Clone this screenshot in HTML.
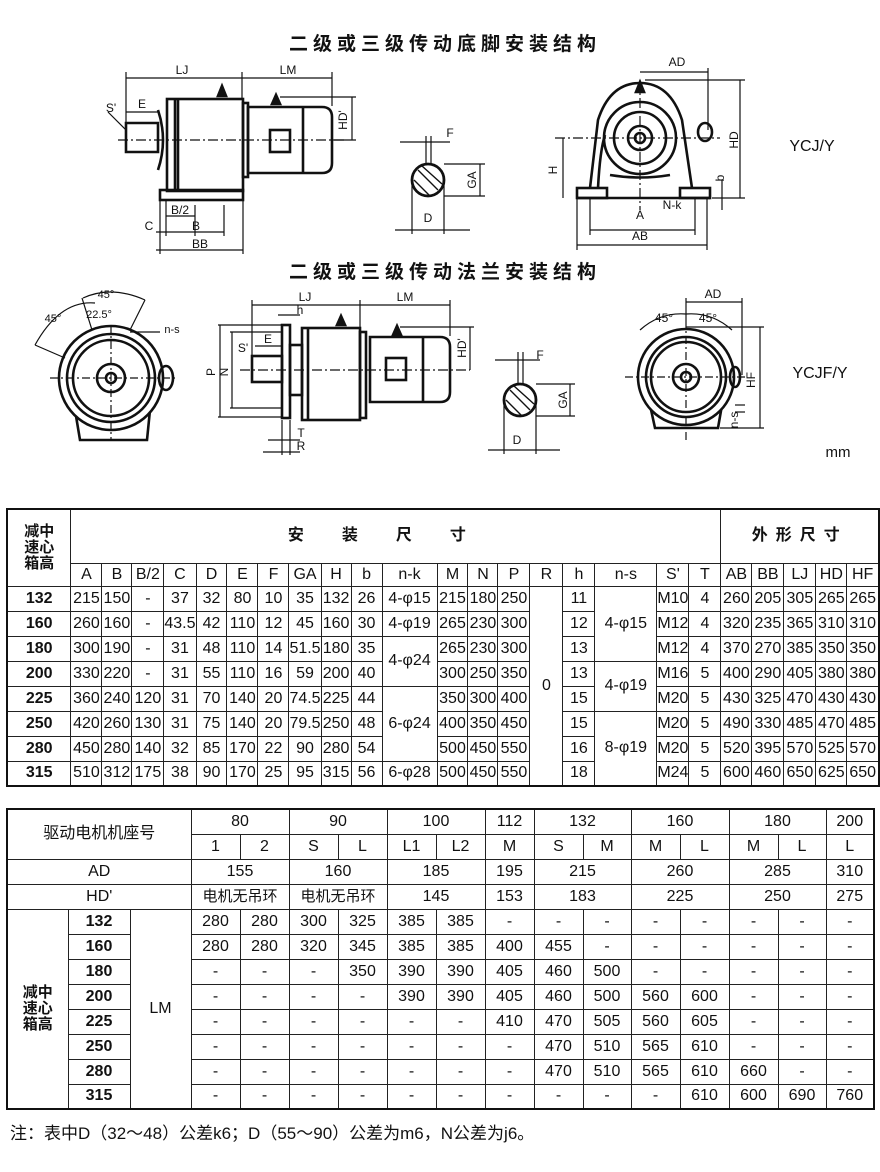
<!DOCTYPE html>
<html><head><meta charset="utf-8">
<style>
*{margin:0;padding:0;box-sizing:border-box}
body{width:880px;height:1172px;background:#fff;position:relative;overflow:hidden;font-family:"Liberation Sans","Noto Sans CJK SC",sans-serif;color:#111}
svg{position:absolute;left:0;top:0}
table{position:absolute;border-collapse:collapse;table-layout:fixed;font-family:"Liberation Sans Narrow","Liberation Sans","Noto Sans CJK SC",sans-serif;font-size:16px}
td{border:1px solid #222;text-align:center;vertical-align:middle;padding:0;white-space:nowrap;overflow:hidden;line-height:1}
.b{font-weight:bold;font-family:"Liberation Sans","Noto Sans CJK SC",sans-serif;font-size:16px}
.cj{font-family:"Liberation Sans","Noto Sans CJK SC",sans-serif}
#t1{left:6px;top:508px;border:2px solid #111}
#t2{left:6px;top:808px;border:2px solid #111}
#t1 tr.d td{height:25px}
#t2 tr td{height:25px}
.note{position:absolute;left:10px;top:1119px;font-size:17px;font-family:"Liberation Sans","Noto Sans CJK SC",sans-serif}
</style></head><body>
<svg width="880" height="500" viewBox="0 0 880 500" font-family="Liberation Sans, Noto Sans CJK SC, sans-serif" fill="none" stroke="#111" stroke-width="1.3">
<g fill="#111" stroke="none" font-weight="bold" font-size="19" text-anchor="middle">
<text x="445" y="50" letter-spacing="5">二级或三级传动底脚安装结构</text>
<text x="445" y="278" letter-spacing="5">二级或三级传动法兰安装结构</text>
</g>
<!-- diagram 1 side -->
<g stroke-width="2.6">
<rect x="167" y="99" width="76" height="92"/>
<line x1="175" y1="99" x2="175" y2="191"/><line x1="178" y1="99" x2="178" y2="191"/>
<rect x="160" y="190" width="83" height="10"/>
<path d="M158 123 L126 123 L126 152 L158 152 Z"/>
<path d="M158 110 Q168 140 158 170"/>
<rect x="243" y="103" width="5" height="74"/>
<path d="M248 107 H322 Q332 107 332 117 V163 Q332 173 322 173 H248 Z"/>
<line x1="303" y1="107" x2="303" y2="173"/>
<rect x="270" y="130" width="20" height="22"/>
<path d="M218 96 L222 86 L226 96 Z" fill="#111"/>
<path d="M272 104 L276 95 L280 104 Z" fill="#111"/>
</g>
<g stroke-width="1.2">
<line x1="118" y1="140" x2="345" y2="140" stroke-dasharray="10 3 2 3"/>
<line x1="126" y1="78" x2="332" y2="78"/><line x1="126" y1="72" x2="126" y2="122"/><line x1="242" y1="72" x2="242" y2="100"/><line x1="332" y1="72" x2="332" y2="106"/>
<line x1="126" y1="112" x2="158" y2="112"/>
<line x1="352" y1="97" x2="352" y2="140"/><line x1="280" y1="97" x2="356" y2="97"/><line x1="332" y1="140" x2="356" y2="140"/>
<line x1="156" y1="232" x2="224" y2="232"/><line x1="156" y1="250" x2="243" y2="250"/>
<line x1="166" y1="216" x2="195" y2="216"/><line x1="160" y1="200" x2="160" y2="254"/><line x1="243" y1="200" x2="243" y2="254"/><line x1="224" y1="205" x2="224" y2="236"/><line x1="195" y1="205" x2="195" y2="236"/><line x1="166" y1="200" x2="166" y2="236"/>
<line x1="108" y1="112" x2="126" y2="130"/>
</g>
<g fill="#111" stroke="none" font-size="12" text-anchor="middle">
<text x="182" y="74">LJ</text><text x="288" y="74">LM</text><text x="142" y="108">E</text><text x="111" y="112">S'</text>
<text x="180" y="214">B/2</text><text x="196" y="230">B</text><text x="149" y="230">C</text><text x="200" y="248">BB</text>
<text x="347" y="120" transform="rotate(-90 347 120)">HD'</text>
</g>
<!-- shaft section 1 -->
<g>
<circle cx="428" cy="180" r="16" stroke-width="2.8"/>
<path d="M418 170 L438 190 M414 180 L430 196 M422 166 L442 184" stroke-width="1.4"/>
<line x1="400" y1="142" x2="450" y2="142" stroke-width="1.2"/><line x1="426" y1="136" x2="426" y2="165" stroke-width="1.2"/><line x1="431" y1="136" x2="431" y2="165" stroke-width="1.2"/>
<line x1="395" y1="230" x2="470" y2="230" stroke-width="1.2"/><line x1="412" y1="180" x2="412" y2="234" stroke-width="1.2"/><line x1="444" y1="180" x2="444" y2="234" stroke-width="1.2"/>
<line x1="444" y1="164" x2="485" y2="164" stroke-width="1.2"/><line x1="444" y1="196" x2="485" y2="196" stroke-width="1.2"/><line x1="480" y1="164" x2="480" y2="196" stroke-width="1.2"/>
</g>
<g fill="#111" stroke="none" font-size="12" text-anchor="middle"><text x="450" y="137">F</text><text x="428" y="222">D</text><text x="476" y="180" transform="rotate(-90 476 180)">GA</text></g>
<!-- end view 1 -->
<g stroke-width="2.6">
<path d="M590 188 L598 120 Q610 83 640 83 Q670 83 682 120 L692 188"/>
<path d="M598 188 Q600 150 605 135"/>
<circle cx="640" cy="138" r="36"/><circle cx="640" cy="138" r="26"/>
<circle cx="640" cy="138" r="12"/><circle cx="640" cy="138" r="5"/>
<path d="M610 175 Q640 180 670 175"/>
<rect x="577" y="188" width="30" height="10"/><rect x="680" y="188" width="30" height="10"/>
<line x1="577" y1="198" x2="710" y2="198"/>
<path d="M636 92 L640 82 L644 92 Z" fill="#111"/>
<ellipse cx="705" cy="132" rx="7" ry="9"/>
</g>
<g stroke-width="1.2">
<line x1="555" y1="138" x2="720" y2="138" stroke-dasharray="10 3 2 3"/><line x1="640" y1="80" x2="640" y2="210" stroke-dasharray="10 3 2 3"/>
<line x1="640" y1="72" x2="708" y2="72"/><line x1="708" y1="68" x2="708" y2="130"/>
<line x1="740" y1="80" x2="740" y2="198"/><line x1="645" y1="80" x2="745" y2="80"/><line x1="712" y1="198" x2="745" y2="198"/>
<line x1="563" y1="138" x2="563" y2="198"/>
<line x1="590" y1="230" x2="695" y2="230"/><line x1="577" y1="245" x2="707" y2="245"/><line x1="577" y1="198" x2="577" y2="250"/><line x1="707" y1="198" x2="707" y2="250"/><line x1="590" y1="198" x2="590" y2="235"/><line x1="695" y1="198" x2="695" y2="235"/>
<line x1="722" y1="180" x2="722" y2="210"/>
</g>
<g fill="#111" stroke="none" font-size="12" text-anchor="middle">
<text x="677" y="66">AD</text><text x="640" y="219">A</text><text x="640" y="240">AB</text><text x="672" y="209">N-k</text>
<text x="738" y="140" transform="rotate(-90 738 140)">HD</text><text x="557" y="170" transform="rotate(-90 557 170)">H</text><text x="724" y="178" transform="rotate(-90 724 178)">b</text>
</g>
<text x="812" y="151" fill="#111" stroke="none" font-size="16" text-anchor="middle">YCJ/Y</text>
<!-- flange end view -->
<g stroke-width="2.6">
<path d="M75 410 L80 440 L147 440 L150 410"/>
<circle cx="111" cy="378" r="52" fill="#fff"/><circle cx="111" cy="378" r="44"/><circle cx="111" cy="378" r="38"/>
<circle cx="111" cy="378" r="14"/><circle cx="111" cy="378" r="5"/>
<ellipse cx="166" cy="378" rx="7" ry="12"/>
</g>
<g stroke-width="1.2">
<line x1="50" y1="378" x2="175" y2="378" stroke-dasharray="8 3 2 3"/><line x1="111" y1="325" x2="111" y2="440" stroke-dasharray="8 3 2 3"/>
<path d="M35 345 Q60 300 95 303"/><path d="M83 298 Q111 285 145 300"/>
<line x1="35" y1="345" x2="65" y2="358"/><line x1="82" y1="298" x2="92" y2="330"/><line x1="145" y1="300" x2="130" y2="330"/>
<line x1="130" y1="332" x2="160" y2="332"/>
</g>
<g fill="#111" stroke="none" font-size="11" text-anchor="middle"><text x="106" y="298">45°</text><text x="53" y="322">45°</text><text x="99" y="318">22.5°</text><text x="172" y="333">n-s</text></g>
<!-- flange side view -->
<g stroke-width="2.6">
<rect x="282" y="325" width="8" height="93"/>
<rect x="290" y="345" width="12" height="50"/>
<rect x="302" y="328" width="58" height="92"/>
<line x1="308" y1="328" x2="308" y2="420"/>
<rect x="360" y="332" width="6" height="86"/>
<path d="M370 337 H440 Q450 337 450 347 V392 Q450 402 440 402 H370 Z"/>
<line x1="423" y1="337" x2="423" y2="402"/><rect x="386" y="358" width="20" height="22"/>
<rect x="252" y="356" width="30" height="26"/>
<path d="M337 325 L341 316 L345 325 Z" fill="#111"/><path d="M393 335 L397 326 L401 335 Z" fill="#111"/>
</g>
<g stroke-width="1.2">
<line x1="240" y1="370" x2="470" y2="370" stroke-dasharray="10 3 2 3"/>
<line x1="252" y1="305" x2="450" y2="305"/><line x1="252" y1="300" x2="252" y2="355"/><line x1="360" y1="300" x2="360" y2="330"/><line x1="450" y1="300" x2="450" y2="336"/>
<line x1="218" y1="325" x2="282" y2="325"/><line x1="218" y1="417" x2="282" y2="417"/><line x1="220" y1="325" x2="220" y2="417"/>
<line x1="230" y1="332" x2="282" y2="332"/><line x1="230" y1="408" x2="282" y2="408"/><line x1="232" y1="332" x2="232" y2="408"/>
<line x1="470" y1="327" x2="470" y2="370"/><line x1="400" y1="327" x2="474" y2="327"/>
<line x1="255" y1="346" x2="282" y2="346"/><line x1="278" y1="315" x2="300" y2="315"/>
<line x1="282" y1="420" x2="282" y2="455"/><line x1="290" y1="420" x2="290" y2="455"/>
<line x1="268" y1="440" x2="300" y2="440"/><line x1="263" y1="452" x2="300" y2="452"/>
</g>
<g fill="#111" stroke="none" font-size="12" text-anchor="middle">
<text x="305" y="301">LJ</text><text x="405" y="301">LM</text><text x="300" y="314">h</text><text x="268" y="343">E</text><text x="243" y="352">S'</text>
<text x="301" y="437">T</text><text x="301" y="450">R</text>
<text x="215" y="372" transform="rotate(-90 215 372)">P</text><text x="228" y="372" transform="rotate(-90 228 372)">N</text><text x="466" y="348" transform="rotate(-90 466 348)">HD'</text>
</g>
<!-- shaft section 2 -->
<g>
<circle cx="520" cy="400" r="16" stroke-width="2.8"/>
<path d="M510 390 L530 410 M506 400 L522 416 M514 386 L534 404" stroke-width="1.4"/>
<line x1="495" y1="360" x2="540" y2="360" stroke-width="1.2"/><line x1="518" y1="352" x2="518" y2="385" stroke-width="1.2"/><line x1="523" y1="352" x2="523" y2="385" stroke-width="1.2"/>
<line x1="488" y1="450" x2="560" y2="450" stroke-width="1.2"/><line x1="504" y1="400" x2="504" y2="454" stroke-width="1.2"/><line x1="536" y1="400" x2="536" y2="454" stroke-width="1.2"/>
<line x1="536" y1="384" x2="575" y2="384" stroke-width="1.2"/><line x1="536" y1="416" x2="575" y2="416" stroke-width="1.2"/><line x1="570" y1="384" x2="570" y2="416" stroke-width="1.2"/>
</g>
<g fill="#111" stroke="none" font-size="12" text-anchor="middle"><text x="540" y="359">F</text><text x="517" y="444">D</text><text x="567" y="400" transform="rotate(-90 567 400)">GA</text></g>
<!-- end view 2 -->
<g stroke-width="2.6">
<path d="M650 405 L655 428 L718 428 L722 405"/>
<circle cx="686" cy="377" r="48" fill="#fff"/><circle cx="686" cy="377" r="40"/><circle cx="686" cy="377" r="35"/>
<circle cx="686" cy="377" r="13"/><circle cx="686" cy="377" r="5"/>
<ellipse cx="735" cy="377" rx="5" ry="10"/>
</g>
<g stroke-width="1.2">
<line x1="625" y1="377" x2="745" y2="377" stroke-dasharray="8 3 2 3"/><line x1="686" y1="320" x2="686" y2="442" stroke-dasharray="8 3 2 3"/>
<line x1="686" y1="302" x2="742" y2="302"/><line x1="686" y1="298" x2="686" y2="320"/><line x1="742" y1="298" x2="742" y2="375"/>
<line x1="760" y1="327" x2="760" y2="428"/><line x1="686" y1="327" x2="764" y2="327"/><line x1="720" y1="428" x2="764" y2="428"/>
<path d="M640 330 Q660 312 686 314 Q712 312 732 330"/>
<line x1="735" y1="405" x2="745" y2="405"/><line x1="735" y1="412" x2="745" y2="412"/>
</g>
<g fill="#111" stroke="none" font-size="12" text-anchor="middle">
<text x="713" y="298">AD</text><text x="664" y="322">45°</text><text x="708" y="322">45°</text>
<text x="755" y="380" transform="rotate(-90 755 380)">HF</text><text x="738" y="420" transform="rotate(-90 738 420)">n-s</text>
</g>
<text x="820" y="378" fill="#111" stroke="none" font-size="16" text-anchor="middle">YCJF/Y</text>
<text x="838" y="457" fill="#111" stroke="none" font-size="15" text-anchor="middle">mm</text>
</svg>

<table id="t1">
<colgroup><col style="width:64px"><col style="width:31px"><col style="width:30px"><col style="width:32px"><col style="width:31px"><col style="width:31px"><col style="width:31px"><col style="width:31px"><col style="width:30px"><col style="width:30px"><col style="width:31px"><col style="width:55px"><col style="width:31px"><col style="width:30px"><col style="width:32px"><col style="width:33px"><col style="width:32px"><col style="width:62px"><col style="width:31px"><col style="width:32px"><col style="width:31px"><col style="width:32px"><col style="width:32px"><col style="width:31px"><col style="width:32px"></colgroup>
<tr><td rowspan="2" class="b" style="height:77px;line-height:1.05;font-size:15px">减中<br>速心<br>箱高</td><td colspan="19" class="b" style="height:54px;letter-spacing:38px;font-size:16px">安装尺寸</td><td colspan="5" class="b" style="letter-spacing:8px;font-size:16px">外形尺寸</td></tr>
<tr style="height:23px"><td>A</td><td>B</td><td>B/2</td><td>C</td><td>D</td><td>E</td><td>F</td><td>GA</td><td>H</td><td>b</td><td>n-k</td><td>M</td><td>N</td><td>P</td><td>R</td><td>h</td><td>n-s</td><td>S'</td><td>T</td><td>AB</td><td>BB</td><td>LJ</td><td>HD</td><td>HF</td></tr>
<tr class="d"><td class="b">132</td><td>215</td><td>150</td><td>-</td><td>37</td><td>32</td><td>80</td><td>10</td><td>35</td><td>132</td><td>26</td><td>4-φ15</td><td>215</td><td>180</td><td>250</td><td rowspan="8">0</td><td>11</td><td rowspan="3">4-φ15</td><td>M10</td><td>4</td><td>260</td><td>205</td><td>305</td><td>265</td><td>265</td></tr>
<tr class="d"><td class="b">160</td><td>260</td><td>160</td><td>-</td><td>43.5</td><td>42</td><td>110</td><td>12</td><td>45</td><td>160</td><td>30</td><td>4-φ19</td><td>265</td><td>230</td><td>300</td><td>12</td><td>M12</td><td>4</td><td>320</td><td>235</td><td>365</td><td>310</td><td>310</td></tr>
<tr class="d"><td class="b">180</td><td>300</td><td>190</td><td>-</td><td>31</td><td>48</td><td>110</td><td>14</td><td>51.5</td><td>180</td><td>35</td><td rowspan="2">4-φ24</td><td>265</td><td>230</td><td>300</td><td>13</td><td>M12</td><td>4</td><td>370</td><td>270</td><td>385</td><td>350</td><td>350</td></tr>
<tr class="d"><td class="b">200</td><td>330</td><td>220</td><td>-</td><td>31</td><td>55</td><td>110</td><td>16</td><td>59</td><td>200</td><td>40</td><td>300</td><td>250</td><td>350</td><td>13</td><td rowspan="2">4-φ19</td><td>M16</td><td>5</td><td>400</td><td>290</td><td>405</td><td>380</td><td>380</td></tr>
<tr class="d"><td class="b">225</td><td>360</td><td>240</td><td>120</td><td>31</td><td>70</td><td>140</td><td>20</td><td>74.5</td><td>225</td><td>44</td><td rowspan="3">6-φ24</td><td>350</td><td>300</td><td>400</td><td>15</td><td>M20</td><td>5</td><td>430</td><td>325</td><td>470</td><td>430</td><td>430</td></tr>
<tr class="d"><td class="b">250</td><td>420</td><td>260</td><td>130</td><td>31</td><td>75</td><td>140</td><td>20</td><td>79.5</td><td>250</td><td>48</td><td>400</td><td>350</td><td>450</td><td>15</td><td rowspan="3">8-φ19</td><td>M20</td><td>5</td><td>490</td><td>330</td><td>485</td><td>470</td><td>485</td></tr>
<tr class="d"><td class="b">280</td><td>450</td><td>280</td><td>140</td><td>32</td><td>85</td><td>170</td><td>22</td><td>90</td><td>280</td><td>54</td><td>500</td><td>450</td><td>550</td><td>16</td><td>M20</td><td>5</td><td>520</td><td>395</td><td>570</td><td>525</td><td>570</td></tr>
<tr class="d"><td class="b">315</td><td>510</td><td>312</td><td>175</td><td>38</td><td>90</td><td>170</td><td>25</td><td>95</td><td>315</td><td>56</td><td>6-φ28</td><td>500</td><td>450</td><td>550</td><td>18</td><td>M24</td><td>5</td><td>600</td><td>460</td><td>650</td><td>625</td><td>650</td></tr>
</table>

<table id="t2">
<colgroup><col style="width:61px"><col style="width:62px"><col style="width:61px"><col style="width:49px"><col style="width:49px"><col style="width:49px"><col style="width:49px"><col style="width:49px"><col style="width:49px"><col style="width:49px"><col style="width:49px"><col style="width:48px"><col style="width:49px"><col style="width:49px"><col style="width:49px"><col style="width:48px"><col style="width:48px"></colgroup>
<tr><td colspan="3" rowspan="2" class="cj">驱动电机机座号</td><td colspan="2" style="height:24px">80</td><td colspan="2">90</td><td colspan="2">100</td><td>112</td><td colspan="2">132</td><td colspan="2">160</td><td colspan="2">180</td><td>200</td></tr>
<tr><td>1</td><td>2</td><td>S</td><td>L</td><td>L1</td><td>L2</td><td>M</td><td>S</td><td>M</td><td>M</td><td>L</td><td>M</td><td>L</td><td>L</td></tr>
<tr><td colspan="3">AD</td><td colspan="2">155</td><td colspan="2">160</td><td colspan="2">185</td><td>195</td><td colspan="2">215</td><td colspan="2">260</td><td colspan="2">285</td><td>310</td></tr>
<tr><td colspan="3">HD'</td><td colspan="2" class="cj" style="font-size:15px">电机无吊环</td><td colspan="2" class="cj" style="font-size:15px">电机无吊环</td><td colspan="2">145</td><td>153</td><td colspan="2">183</td><td colspan="2">225</td><td colspan="2">250</td><td>275</td></tr>
<tr><td rowspan="8" class="b" style="font-size:15px;line-height:1.05">减中<br>速心<br>箱高</td><td class="b">132</td><td rowspan="8">LM</td><td>280</td><td>280</td><td>300</td><td>325</td><td>385</td><td>385</td><td>-</td><td>-</td><td>-</td><td>-</td><td>-</td><td>-</td><td>-</td><td>-</td></tr>
<tr><td class="b">160</td><td>280</td><td>280</td><td>320</td><td>345</td><td>385</td><td>385</td><td>400</td><td>455</td><td>-</td><td>-</td><td>-</td><td>-</td><td>-</td><td>-</td></tr>
<tr><td class="b">180</td><td>-</td><td>-</td><td>-</td><td>350</td><td>390</td><td>390</td><td>405</td><td>460</td><td>500</td><td>-</td><td>-</td><td>-</td><td>-</td><td>-</td></tr>
<tr><td class="b">200</td><td>-</td><td>-</td><td>-</td><td>-</td><td>390</td><td>390</td><td>405</td><td>460</td><td>500</td><td>560</td><td>600</td><td>-</td><td>-</td><td>-</td></tr>
<tr><td class="b">225</td><td>-</td><td>-</td><td>-</td><td>-</td><td>-</td><td>-</td><td>410</td><td>470</td><td>505</td><td>560</td><td>605</td><td>-</td><td>-</td><td>-</td></tr>
<tr><td class="b">250</td><td>-</td><td>-</td><td>-</td><td>-</td><td>-</td><td>-</td><td>-</td><td>470</td><td>510</td><td>565</td><td>610</td><td>-</td><td>-</td><td>-</td></tr>
<tr><td class="b">280</td><td>-</td><td>-</td><td>-</td><td>-</td><td>-</td><td>-</td><td>-</td><td>470</td><td>510</td><td>565</td><td>610</td><td>660</td><td>-</td><td>-</td></tr>
<tr><td class="b">315</td><td>-</td><td>-</td><td>-</td><td>-</td><td>-</td><td>-</td><td>-</td><td>-</td><td>-</td><td>-</td><td>610</td><td>600</td><td>690</td><td>760</td></tr>
</table>

<div class="note">注：表中D（32～48）公差k6；D（55～90）公差为m6，N公差为j6。</div>
</body></html>
